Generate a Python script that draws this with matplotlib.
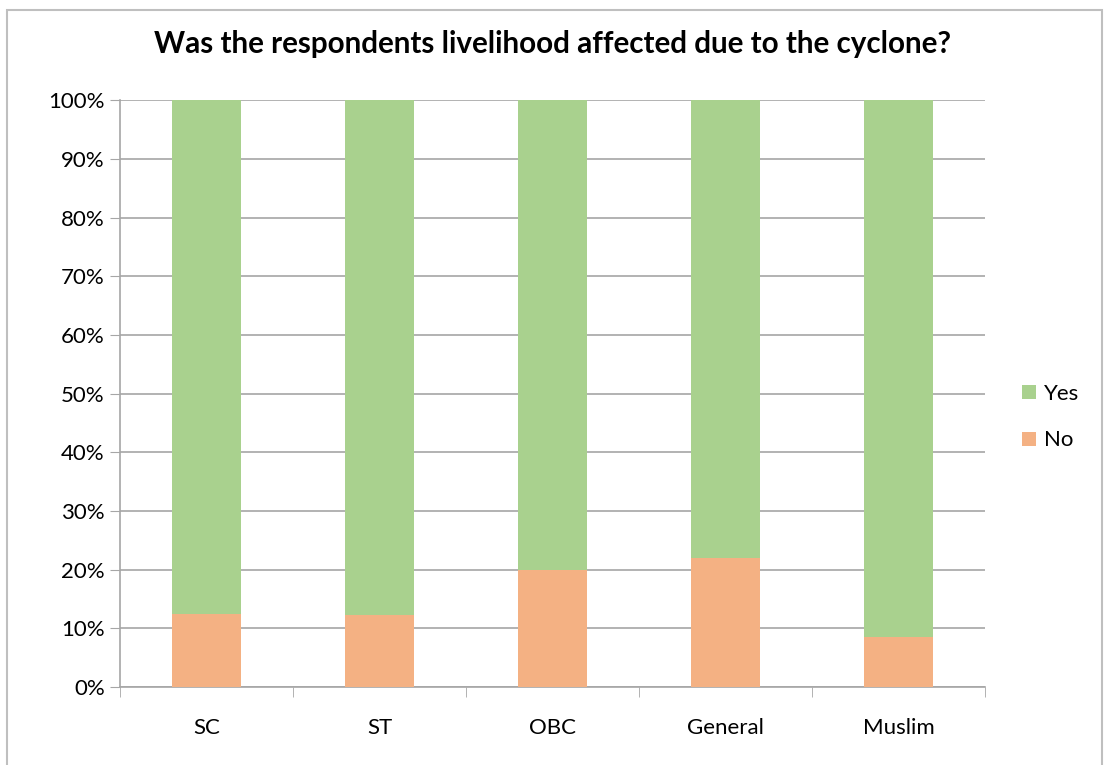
import matplotlib.pyplot as plt
import numpy as np
from matplotlib.patches import Rectangle
from matplotlib.ticker import FixedLocator, PercentFormatter

categories = ["SC", "ST", "OBC", "General", "Muslim"]
no_pct = [12.4, 12.2, 20.0, 22.0, 8.6]
yes_pct = [100 - v for v in no_pct]

plt.rcParams["font.family"] = ["Lato", "DejaVu Sans"]

fig = plt.figure(figsize=(11.06, 7.65), dpi=100)
ax = fig.add_axes([0.1085, 0.102, 0.782, 0.767])

x = np.arange(len(categories))
ax.bar(x, no_pct, width=0.4, color="#F4B183", label="No", zorder=3)
ax.bar(x, yes_pct, width=0.4, bottom=no_pct, color="#A9D18E", label="Yes", zorder=3)

ax.set_xlim(-0.5, len(categories) - 0.5)
ax.set_ylim(0, 100)
ax.set_yticks(np.arange(0, 101, 10))
ax.yaxis.set_major_formatter(PercentFormatter(decimals=0))
ax.set_xticks(x)
ax.set_xticklabels(categories, fontsize=16)
ax.xaxis.set_minor_locator(FixedLocator(np.arange(-0.5, len(categories), 1.0)))
ax.tick_params(axis="x", which="major", length=0, pad=22)
ax.tick_params(axis="x", which="minor", length=7, color="#A6A6A6", direction="out")
ax.tick_params(axis="y", length=7, color="#A6A6A6", labelsize=16, pad=4)

ax.grid(axis="y", color="#A6A6A6", linewidth=1.2, zorder=0)
for s in ["top", "right"]:
    ax.spines[s].set_visible(False)
for s in ["left", "bottom"]:
    ax.spines[s].set_color("#A6A6A6")
    ax.spines[s].set_linewidth(1.2)

ax.set_title("Was the respondents livelihood affected due to the cyclone?",
             fontsize=21.3, fontweight="bold", pad=34)

handles, labels = ax.get_legend_handles_labels()
ax.legend(handles[::-1], labels[::-1], loc="center left", bbox_to_anchor=(1.02, 0.46),
          frameon=False, fontsize=16, handlelength=0.6, handleheight=0.6,
          handletextpad=0.4, labelspacing=1.2)

fig.patches.append(Rectangle((0.006, -0.05), 0.99, 1.037, transform=fig.transFigure,
                             fill=False, edgecolor="#BFBFBF", linewidth=1.5))

fig.savefig("out.png", dpi=100)
